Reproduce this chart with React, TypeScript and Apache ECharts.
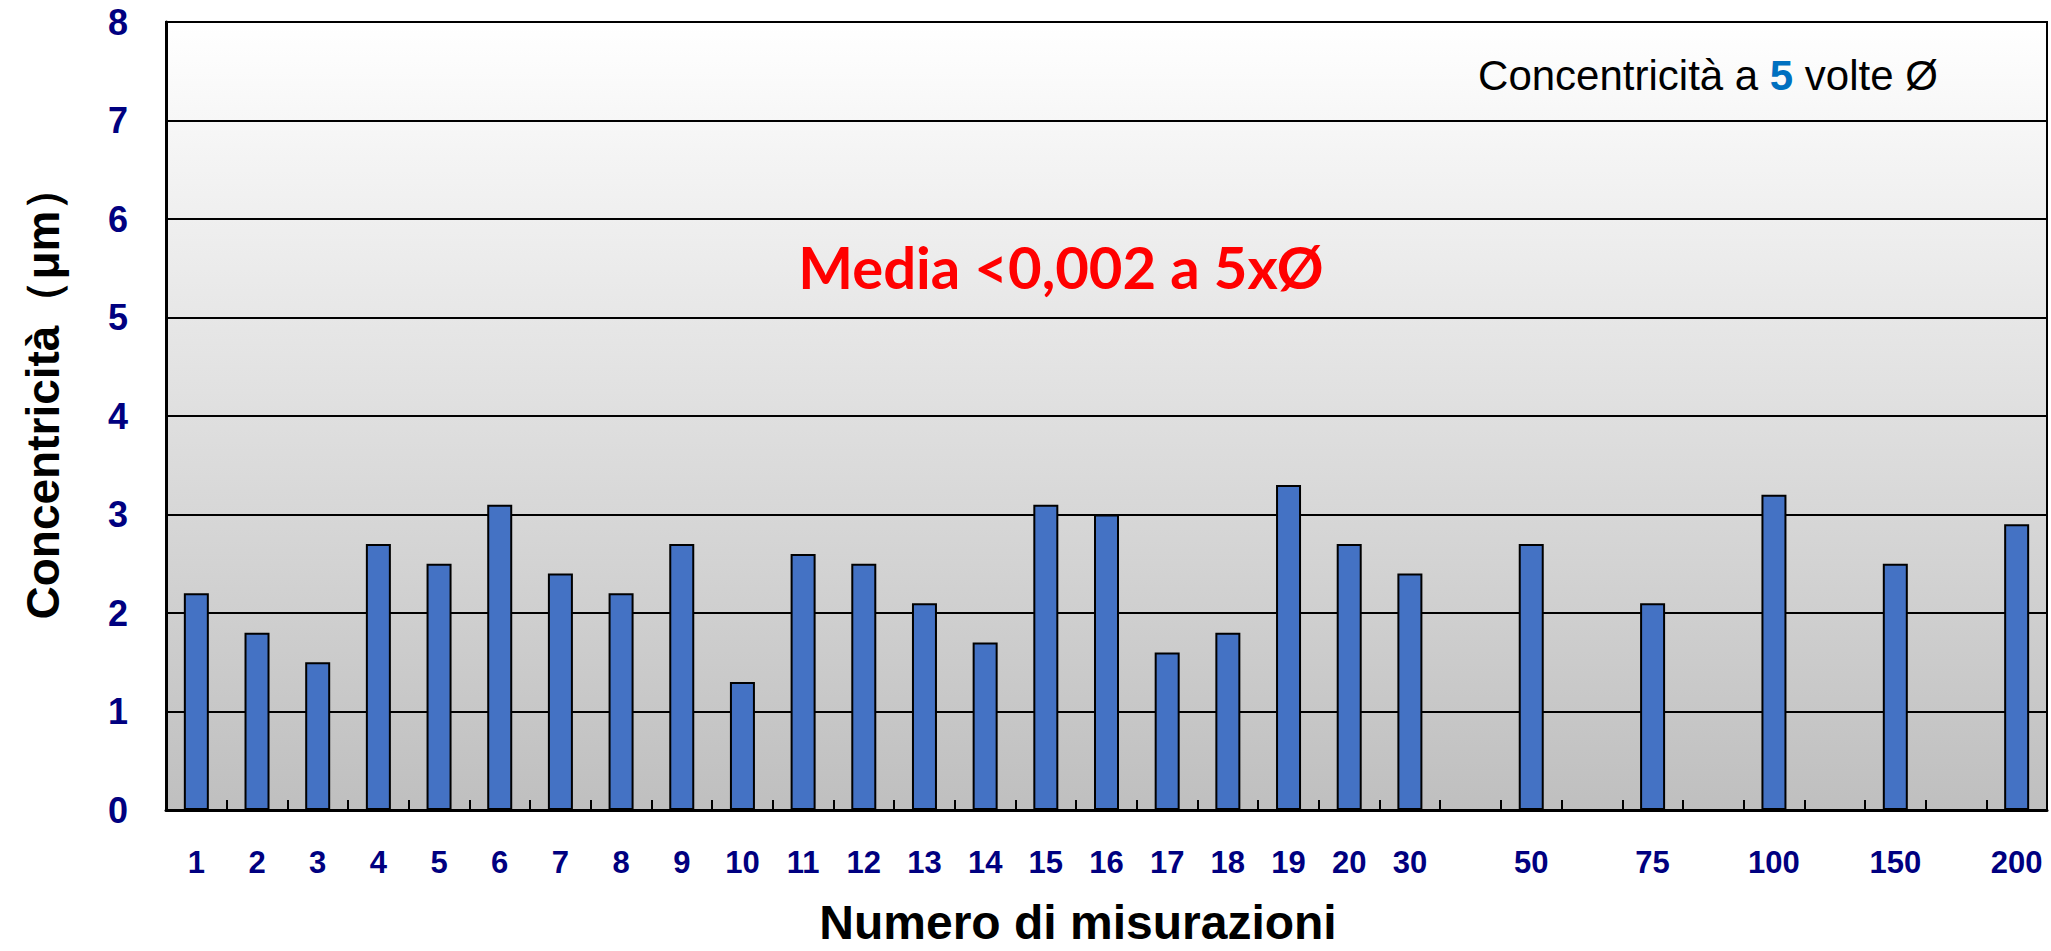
import React, { useEffect, useRef } from "react";
import * as echarts from "echarts";

const categories = [
  "1", "2", "3", "4", "5", "6", "7", "8", "9", "10",
  "11", "12", "13", "14", "15", "16", "17", "18", "19", "20",
  "30", "", "50", "", "75", "", "100", "", "150", "", "200",
];
const values: (number | null)[] = [
  2.2, 1.8, 1.5, 2.7, 2.5, 3.1, 2.4, 2.2, 2.7, 1.3,
  2.6, 2.5, 2.1, 1.7, 3.1, 3.0, 1.6, 1.8, 3.3, 2.7,
  2.4, null, 2.7, null, 2.1, null, 3.2, null, 2.5, null, 2.9,
];
const yTicks = [0, 1, 2, 3, 4, 5, 6, 7, 8];

const xTitle = "Numero di misurazioni";
const yTitle = "Concentricità（μm）";
const noteText = "Concentricità a {b|5} volte Ø";
const mediaText = "Media <0,002 a 5xØ";

export default function App() {
  const ref = useRef<HTMLDivElement>(null);
  useEffect(() => {
    document.body.style.margin = "0";
    const chart = echarts.init(ref.current!, null, { renderer: "svg" });
    chart.setOption({
      animation: false,
      backgroundColor: "#ffffff",
      grid: {
        left: 166,
        right: 4,
        top: 22,
        bottom: 141,
        show: true,
        borderColor: "#000",
        borderWidth: 2,
        backgroundColor: new echarts.graphic.LinearGradient(0, 0, 0, 1, [
          { offset: 0, color: "#ffffff" },
          { offset: 1, color: "#bfbfbf" },
        ]),
      },
      xAxis: {
        type: "category",
        data: categories,
        boundaryGap: true,
        axisLine: { lineStyle: { color: "#000", width: 3 } },
        axisTick: {
          show: true,
          inside: true,
          length: 10,
          interval: 0,
          lineStyle: { color: "#000", width: 2 },
        },
        axisLabel: {
          interval: 0,
          margin: 37,
          color: "#000080",
          fontWeight: "bold",
          fontSize: 31,
          fontFamily: "'Liberation Sans', Arial, sans-serif",
        },
      },
      yAxis: {
        type: "value",
        min: 0,
        max: yTicks[yTicks.length - 1],
        interval: 1,
        axisLine: { show: true, lineStyle: { color: "#000", width: 3 } },
        axisTick: { show: false },
        splitLine: { show: true, lineStyle: { color: "#000", width: 2 } },
        axisLabel: {
          margin: 38,
          color: "#000080",
          fontWeight: "bold",
          fontSize: 36,
          fontFamily: "'Liberation Sans', Arial, sans-serif",
        },
      },
      series: [
        {
          type: "bar",
          data: values,
          barWidth: 25,
          itemStyle: { color: "#4472C4", borderColor: "#000", borderWidth: 2 },
        },
      ],
      graphic: [
        {
          type: "text",
          x: 1078,
          y: 922,
          style: {
            text: xTitle,
            fill: "#000",
            font: "bold 48px 'Liberation Sans', Arial, sans-serif",
            align: "center",
            verticalAlign: "middle",
          },
        },
        {
          type: "text",
          x: 43,
          y: 392,
          rotation: Math.PI / 2,
          style: {
            text: yTitle,
            fill: "#000",
            font: "bold 46px 'Liberation Sans', Arial, sans-serif",
            align: "center",
            verticalAlign: "middle",
          },
        },
        {
          type: "text",
          x: 1708,
          y: 75,
          style: {
            text: noteText,
            fill: "#000",
            font: "42px 'Liberation Sans', Arial, sans-serif",
            align: "center",
            verticalAlign: "middle",
            rich: {
              b: {
                fill: "#0070C0",
                font: "bold 42px 'Liberation Sans', Arial, sans-serif",
              },
            },
          },
        },
        {
          type: "text",
          x: 1061,
          y: 266,
          style: {
            text: mediaText,
            fill: "#FF0000",
            font: "bold 58px Lato, 'Open Sans', sans-serif",
            align: "center",
            verticalAlign: "middle",
          },
        },
      ],
    });
    return () => chart.dispose();
  }, []);
  return <div ref={ref} style={{ width: 2051, height: 951 }} />;
}
